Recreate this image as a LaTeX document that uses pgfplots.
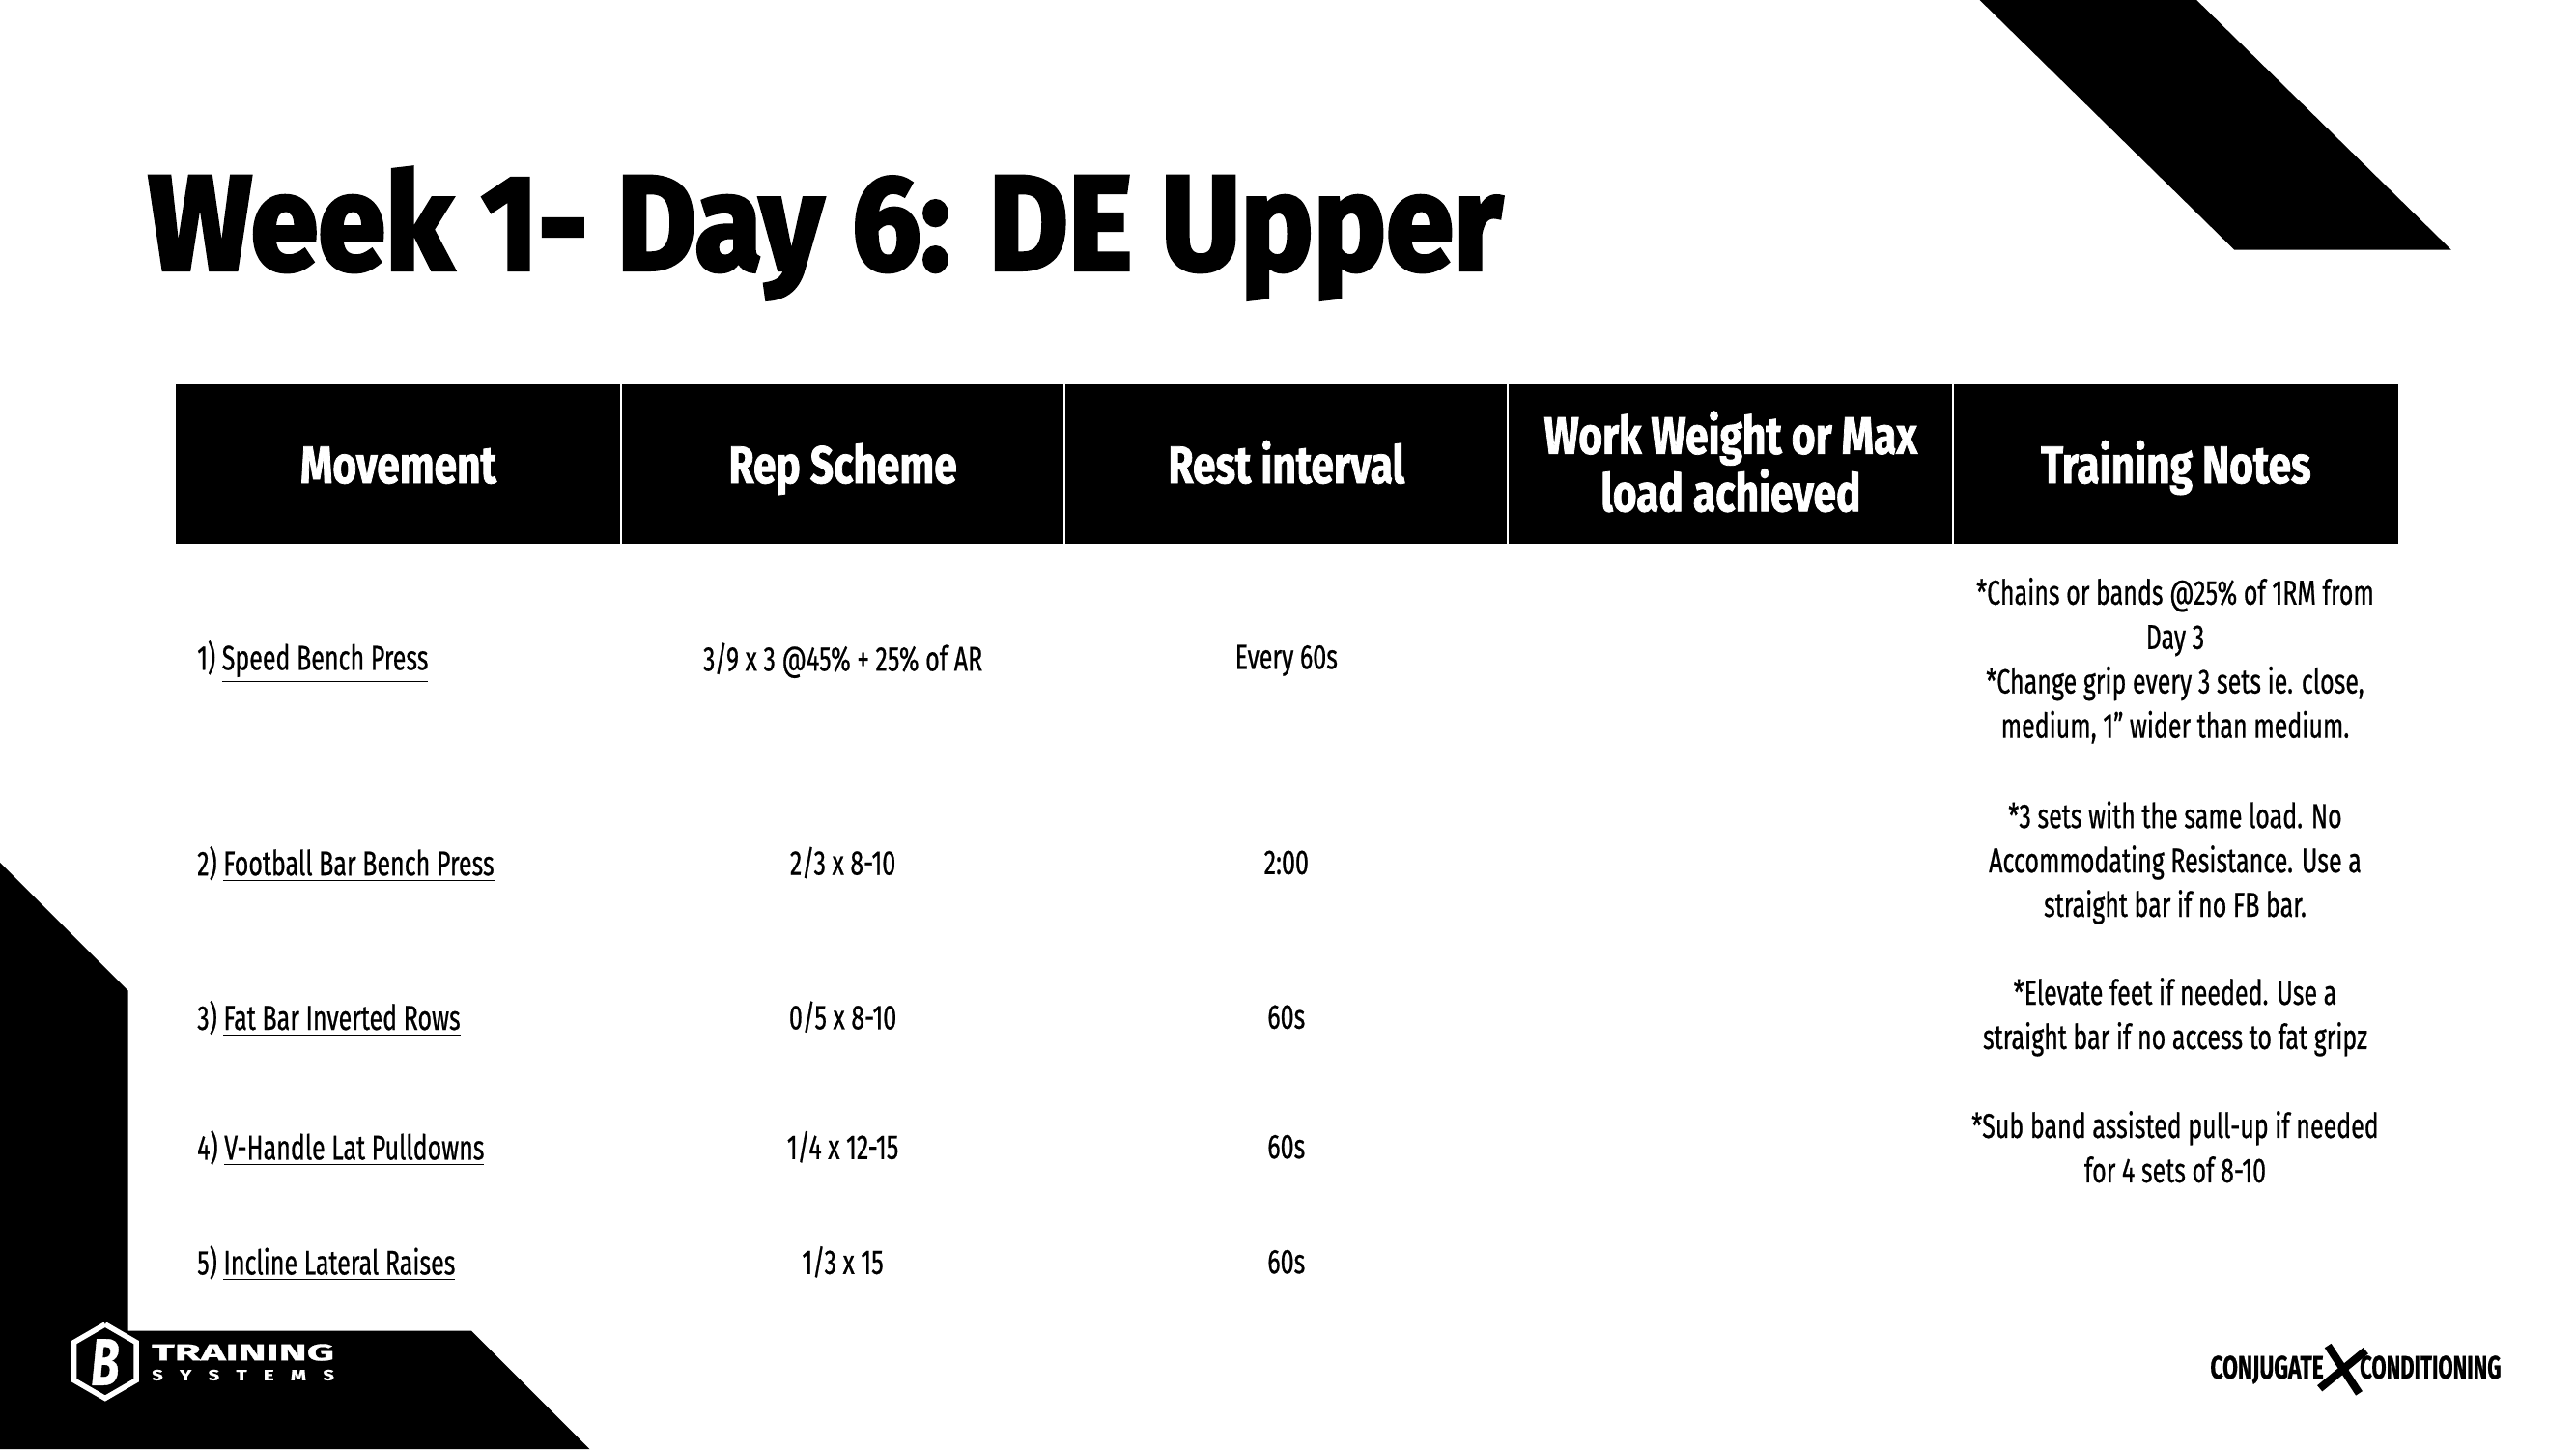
\documentclass[border=0pt]{standalone}
\usepackage{pgfplots}
\pgfplotsset{compat=1.18}
\usepackage{graphicx}
\usepackage{fontspec}
\setmainfont{Fira Sans}[FakeStretch=0.70, FakeBold=0.6]
\newfontfamily\titlefont{Fira Sans}[FakeBold=3]
\newfontfamily\headfont{Fira Sans}[FakeStretch=0.78, FakeBold=1.4]
\newcommand{\body}{\fontsize{10.5}{13.5}\selectfont}
\newcommand{\head}{\headfont\fontsize{16}{17.5}\selectfont\bfseries}
\begin{document}
\begin{tikzpicture}
\begin{axis}[
  width=784pt, height=441pt, scale only axis,
  xmin=0, xmax=1568, ymin=0, ymax=882, y dir=reverse,
  hide axis, clip=false,
]
% background (sets the picture size)
\addplot[fill=white, draw=none, forget plot] coordinates {(0,0)(1568,0)(1568,882)(0,882)};
% decorative shapes
\addplot[fill=black, draw=none, forget plot] coordinates {(1205,0)(1337,0)(1492,152)(1360,152)};
\addplot[fill=black, draw=none, forget plot] coordinates {(0,525)(78,603)(78,810)(287,810)(359,882)(0,882)};
% table header
\addplot[fill=black, draw=none, forget plot] coordinates {(107,234)(1460,234)(1460,331)(107,331)};
\addplot[white, line width=0.6pt, forget plot] coordinates {(378,234)(378,331)};
\addplot[white, line width=0.6pt, forget plot] coordinates {(648,234)(648,331)};
\addplot[white, line width=0.6pt, forget plot] coordinates {(918,234)(918,331)};
\addplot[white, line width=0.6pt, forget plot] coordinates {(1189,234)(1189,331)};
% logo hexagon
\addplot[white, line width=1.6pt, forget plot] coordinates {(64,806)(83,817)(83,840)(64,851)(45,840)(45,817)(64,806)};
% X brush mark
\addplot[black, line width=2.4pt, forget plot] coordinates {(1417,819)(1436,848)};
\addplot[black, line width=2.4pt, forget plot] coordinates {(1440,822)(1412,845)};

% title
\node[anchor=base west, inner sep=0pt] at (axis cs:90,164) {\resizebox{412pt}{31pt}{\titlefont\bfseries Week 1- Day 6: DE Upper}};

% header text
\node[white, font=\head, anchor=base] at (axis cs:242.5,294) {Movement};
\node[white, font=\head, anchor=base] at (axis cs:513,294) {Rep Scheme};
\node[white, font=\head, anchor=base] at (axis cs:783,294) {Rest interval};
\node[white, font=\head, align=center] at (axis cs:1053.5,281) {Work Weight or Max\\load achieved};
\node[white, font=\head, anchor=base] at (axis cs:1324.5,294) {Training Notes};

% column 1
\node[anchor=west, font=\body] at (axis cs:113,403) {1) \underline{Speed Bench Press}};
\node[anchor=west, font=\body] at (axis cs:113,526) {2) \underline{Football Bar Bench Press}};
\node[anchor=west, font=\body] at (axis cs:113,620) {3) \underline{Fat Bar Inverted Rows}};
\node[anchor=west, font=\body] at (axis cs:113,699) {4) \underline{V-Handle Lat Pulldowns}};
\node[anchor=west, font=\body] at (axis cs:113,769) {5) \underline{Incline Lateral Raises}};
% column 2
\node[font=\body] at (axis cs:513,402) {3/9 x 3 @45\% + 25\% of AR};
\node[font=\body] at (axis cs:513,525) {2/3 x 8-10};
\node[font=\body] at (axis cs:513,619) {0/5 x 8-10};
\node[font=\body] at (axis cs:513,698) {1/4 x 12-15};
\node[font=\body] at (axis cs:513,768) {1/3 x 15};
% column 3
\node[font=\body] at (axis cs:783,402) {Every 60s};
\node[font=\body] at (axis cs:783,525) {2:00};
\node[font=\body] at (axis cs:783,619) {60s};
\node[font=\body] at (axis cs:783,698) {60s};
\node[font=\body] at (axis cs:783,768) {60s};
% column 5
\node[font=\body, align=center] at (axis cs:1324,402) {*Chains or bands @25\% of 1RM from\\Day 3\\*Change grip every 3 sets ie. close,\\medium, 1” wider than medium.};
\node[font=\body, align=center] at (axis cs:1324,525) {*3 sets with the same load. No\\Accommodating Resistance. Use a\\straight bar if no FB bar.};
\node[font=\body, align=center] at (axis cs:1324,619) {*Elevate feet if needed. Use a\\straight bar if no access to fat gripz};
\node[font=\body, align=center] at (axis cs:1324,698) {*Sub band assisted pull-up if needed\\for 4 sets of 8-10};

% logos text
\node[white, inner sep=0pt] at (axis cs:64,829) {\resizebox{!}{14pt}{\bfseries\itshape B}};
\node[white, anchor=base west, inner sep=0pt] at (axis cs:92,828) {\resizebox{55.5pt}{5pt}{\bfseries TRAINING}};
\node[white, anchor=base west, inner sep=0pt] at (axis cs:92,840) {\resizebox{55.5pt}{3.2pt}{\bfseries S\hspace{.6em}Y\hspace{.6em}S\hspace{.6em}T\hspace{.6em}E\hspace{.6em}M\hspace{.6em}S}};
\node[anchor=base west, inner sep=0pt] at (axis cs:1345,839) {\resizebox{34.5pt}{7pt}{\bfseries CONJUGATE}};
\node[anchor=base west, inner sep=0pt] at (axis cs:1436,839) {\resizebox{43pt}{7pt}{\bfseries CONDITIONING}};
\end{axis}
\end{tikzpicture}
\end{document}
